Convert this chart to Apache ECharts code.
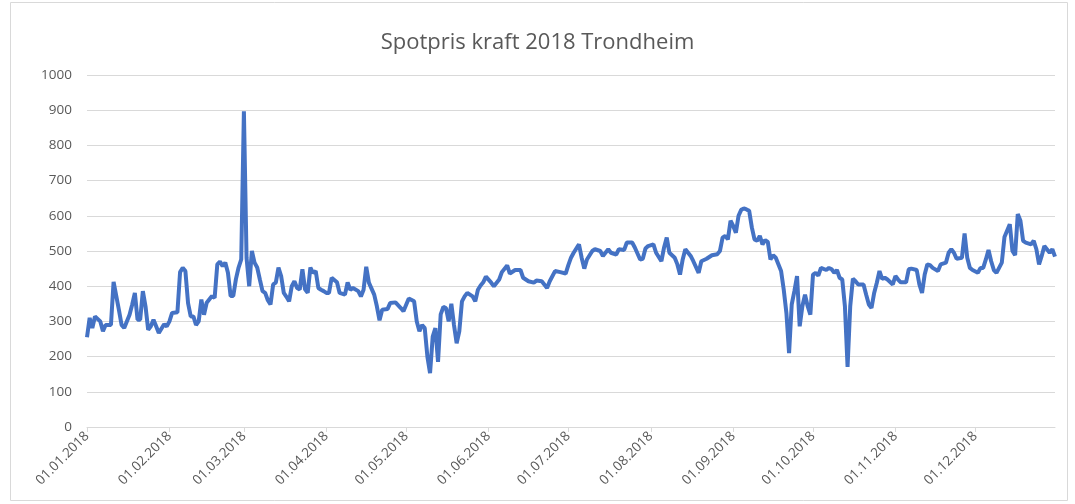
<!DOCTYPE html>
<html>
<head>
<meta charset="utf-8">
<script src="https://cdn.jsdelivr.net/npm/echarts@6/dist/echarts.min.js"></script>
<style>
html,body{margin:0;padding:0;background:#fff;}
#chart{width:1075px;height:504px;}
</style>
</head>
<body>
<div id="chart"></div>
<script>
// day of year (0 = 01.01.2018) and price
const days = [0,1,2,3,5,6,7,9,10,12,13,14,16,17,18,19,20,21,22,23,24,25,26,27,29,30,31,32,34,35,36,37,38,39,40,41,42,43,44,45,47,48,49,50,51,52,53,54,55,56,57,58,59,60,61,62,63,64,65,66,67,68,69,70,71,72,73,74,75,76,77,78,79,80,81,82,83,84,85,86,87,88,89,90,91,92,94,95,97,98,99,100,102,103,104,105,106,108,109,110,111,113,114,116,118,119,121,123,124,125,126,127,128,129,130,131,132,133,134,135,136,137,138,139,140,141,142,143,145,146,147,148,149,150,152,153,155,156,158,159,161,163,164,166,168,169,171,173,174,176,178,180,181,182,183,185,186,187,188,190,191,193,194,196,197,199,200,202,203,205,206,208,209,210,211,213,214,216,217,218,219,221,222,223,224,225,227,228,230,231,233,235,237,238,239,240,241,242,243,244,245,246,247,248,249,250,251,252,253,254,255,256,257,258,259,261,262,263,264,265,266,267,268,269,270,271,272,273,274,275,276,278,279,280,281,282,283,284,285,286,287,288,289,290,292,293,294,295,296,297,298,299,300,301,303,304,305,306,308,309,310,312,313,314,315,316,317,318,320,321,323,324,325,326,327,329,330,331,332,333,335,336,337,338,339,340,341,342,344,345,347,348,349,350,351,352,353,355,356,357,358,359,360,362,363,364];
const prices = [255,310,281,314,300,272,290,290,412,333,290,281,319,348,381,305,305,386,343,276,286,305,286,267,292,286,300,324,326,440,452,443,352,314,314,290,300,362,319,353,372,367,462,470,457,467,438,372,372,420,453,476,897,480,400,500,467,453,419,386,381,360,348,405,410,453,429,381,370,357,400,414,395,391,448,391,381,453,438,443,395,390,386,381,381,424,411,381,376,411,390,395,386,371,390,455,410,376,343,303,333,335,352,354,338,329,365,357,300,272,290,281,200,153,257,281,185,320,341,338,300,350,290,238,272,357,371,381,371,357,390,402,411,427,410,400,419,440,459,436,446,446,424,414,410,416,414,395,414,443,440,436,460,481,495,519,481,450,476,500,505,500,486,505,495,490,505,503,524,524,510,476,478,507,514,519,495,471,510,538,495,481,462,433,476,505,486,471,438,471,478,488,491,500,538,543,533,586,571,552,600,617,621,618,614,567,533,529,543,519,531,526,476,488,481,443,390,324,210,348,386,429,286,343,376,343,319,433,438,430,452,446,452,448,438,446,424,419,343,171,343,421,414,405,405,376,348,338,381,410,443,421,424,419,405,429,419,411,411,448,450,446,405,381,433,462,460,452,443,462,467,495,505,495,478,481,550,481,452,446,438,452,452,476,503,471,446,438,467,540,576,500,488,605,586,529,524,519,529,505,462,486,514,495,505,484];

const titleText = 'Spotpris kraft 2018 Trondheim';
const textColor = '#595959';

const seriesData = days.map((d, i) => [new Date(2018, 0, 1 + d).getTime(), prices[i]]);

const chart = echarts.init(document.getElementById('chart'));

chart.setOption({
    animation: false,
    title: {
        text: titleText,
        left: 'center',
        top: 27,
        textStyle: {
            color: textColor,
            fontSize: 22,
            fontWeight: 'normal',
            fontFamily: 'Open Sans'
        }
    },
    graphic: [{
        type: 'rect',
        shape: {x: 10.5, y: 2.5, width: 1057, height: 498},
        style: {fill: 'none', stroke: '#d9d9d9', lineWidth: 1},
        silent: true
    }],
    grid: {
        left: 87,
        right: 20,
        top: 75,
        bottom: 77
    },
    xAxis: {
        type: 'time',
        min: new Date(2018, 0, 1).getTime(),
        max: new Date(2018, 11, 31).getTime(),
        splitNumber: 12,
        minInterval: 28 * 86400000,
        axisLine: {lineStyle: {color: '#d9d9d9', width: 1}},
        axisTick: {show: true, length: 5, lineStyle: {color: '#d9d9d9'}},
        splitLine: {show: false},
        axisLabel: {
            rotate: 45,
            color: textColor,
            fontSize: 13.5,
            fontFamily: 'Open Sans',
            margin: 7,
            hideOverlap: false,
            formatter: '{dd}.{MM}.{yyyy}'
        }
    },
    yAxis: {
        type: 'value',
        min: 0,
        max: 1000,
        interval: 100,
        axisLine: {show: false},
        axisTick: {show: false},
        splitLine: {lineStyle: {color: '#d9d9d9', width: 1}},
        axisLabel: {
            color: textColor,
            fontSize: 13.5,
            fontFamily: 'Open Sans',
            margin: 15,
            formatter: v => String(v)
        }
    },
    series: [{
        name: 'Spotpris',
        type: 'line',
        data: seriesData,
        showSymbol: false,
        lineStyle: {color: '#4472C4', width: 4},
        itemStyle: {color: '#4472C4'}
    }]
});
</script>
</body>
</html>
